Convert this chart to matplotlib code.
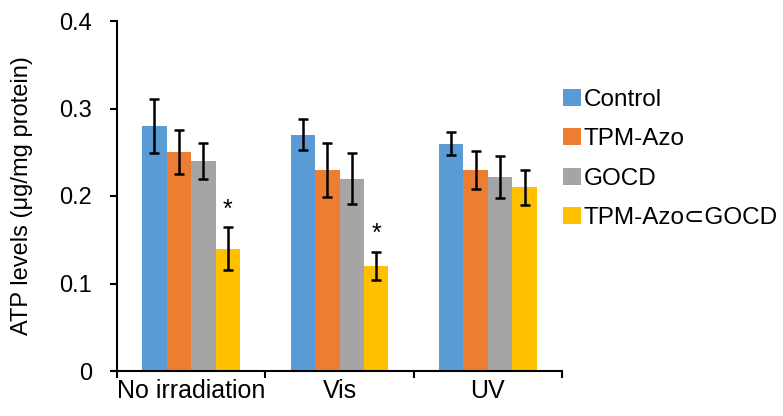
import numpy as np
import matplotlib
matplotlib.use("Agg")
import matplotlib.pyplot as plt

plt.rcParams['font.family'] = ['Liberation Sans', 'DejaVu Sans']

groups = ["No irradiation", "Vis", "UV"]
series = ["Control", "TPM-Azo", "GOCD", "TPM-Azo\u2282GOCD"]
colors = ["#5B9BD5", "#ED7D31", "#A5A5A5", "#FFC000"]

control = [0.28, 0.27, 0.26]
tpm_azo = [0.25, 0.23, 0.23]
gocd = [0.24, 0.22, 0.222]
complex_ = [0.14, 0.12, 0.21]

control_err = [0.031, 0.0175, 0.0135]
tpm_azo_err = [0.025, 0.031, 0.022]
gocd_err = [0.021, 0.029, 0.024]
complex_err = [0.025, 0.0165, 0.02]

stars = [True, True, False]  # significance on the last series

values = [control, tpm_azo, gocd, complex_]
errors = [control_err, tpm_azo_err, gocd_err, complex_err]

fig = plt.figure(figsize=(7.83, 4.16), dpi=100)
ax = fig.add_axes([117 / 783, 45 / 416, (562 - 117) / 783, (371 - 21) / 416])

x = np.arange(len(groups))
w = 0.165
for i, (vals, errs) in enumerate(zip(values, errors)):
    pos = x + (i - 1.5) * w
    ax.bar(pos, vals, w, color=colors[i], label=series[i], zorder=2)
    ax.errorbar(pos, vals, yerr=errs, fmt='none', ecolor='black',
                elinewidth=1.8, capsize=3.5, capthick=1.8, zorder=3)
    if i == 3:
        for p, v, e, s in zip(pos, vals, errs, stars):
            if s:
                ax.text(p, v + e + 0.006, "*", ha='center', va='bottom',
                        fontsize=18)

ax.set_xlim(-0.5, 2.5)
ax.set_ylim(0, 0.4)
ax.set_yticks([0, 0.1, 0.2, 0.3, 0.4])
ax.set_yticklabels(["0", "0.1", "0.2", "0.3", "0.4"])
ax.set_xticks(x)
ax.set_xticklabels(groups)
ax.set_xticks([-0.5, 0.5, 1.5, 2.5], minor=True)
ax.tick_params(axis='x', which='major', length=0, labelsize=18, pad=6)
ax.tick_params(axis='x', which='minor', length=5, width=1.5, direction='out')
ax.tick_params(axis='y', length=5, width=1.5, direction='out', labelsize=17, pad=13)

for s in ['top', 'right']:
    ax.spines[s].set_visible(False)
for s in ['left', 'bottom']:
    ax.spines[s].set_linewidth(1.5)

ax.set_ylabel("ATP levels (\u03bcg/mg protein)", fontsize=17, labelpad=19)

ax.legend(loc='upper left', bbox_to_anchor=(553 / 783, 1 - 79 / 416),
          bbox_transform=fig.transFigure, frameon=False, fontsize=17.5,
          handlelength=0.75, handleheight=0.7, handletextpad=0.12,
          labelspacing=0.72, borderaxespad=0)

fig.savefig("out.png", dpi=100)
